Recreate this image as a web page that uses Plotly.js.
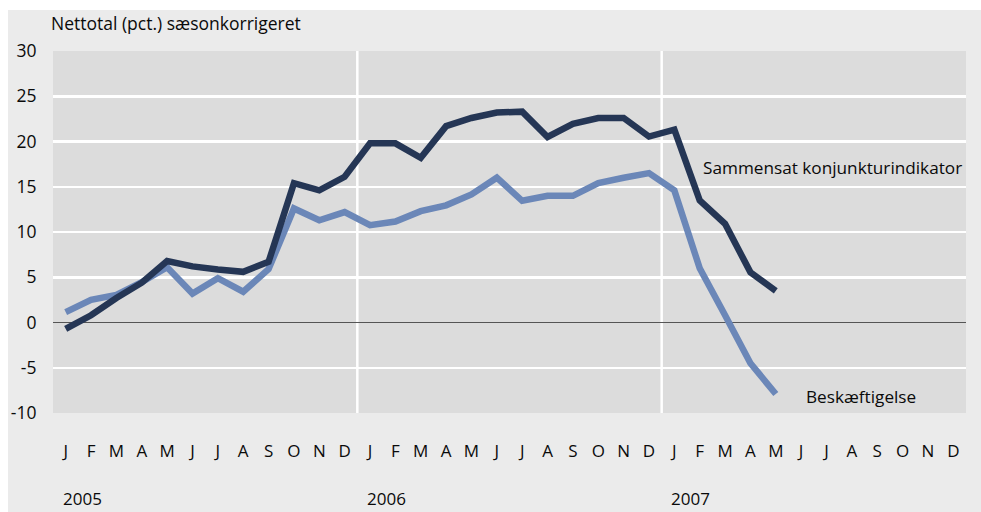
<!DOCTYPE html>
<html>
<head>
<meta charset="utf-8">
<script src="https://cdn.plot.ly/plotly-3.0.1.min.js"></script>
<style>
html,body{margin:0;padding:0;background:#ffffff;}
#chart{position:absolute;left:8px;top:10px;width:973px;height:502px;}
</style>
</head>
<body>
<div id="chart"></div>
<script>
const monthLabels = ["J","F","M","A","M","J","J","A","S","O","N","D",
                     "J","F","M","A","M","J","J","A","S","O","N","D",
                     "J","F","M","A","M","J","J","A","S","O","N","D"];
const years = ["2005","2006","2007"];
const yTickVals = [-10,-5,0,5,10,15,20,25,30];
const yTickText = ["-10","-5","0","5","10","15","20","25","30"];
const sammensat = [-0.7,0.8,2.7,4.4,6.8,6.2,5.85,5.6,6.7,15.4,14.6,16.1,
                   19.8,19.8,18.2,21.7,22.6,23.2,23.3,20.5,21.95,22.6,22.6,20.55,
                   21.3,13.5,10.9,5.55,3.5];
const beskaeftigelse = [1.15,2.5,3.05,4.45,6.1,3.2,4.9,3.4,5.9,12.6,11.3,12.2,
                        10.75,11.15,12.3,12.95,14.15,16.0,13.45,14.0,14.0,15.4,16.0,16.5,
                        14.6,6.0,0.8,-4.5,-7.9];
const seriesNames = ["Sammensat konjunkturindikator","Beskæftigelse"];
const yTitle = "Nettotal (pct.) sæsonkorrigeret";

const idx = a => a.map((_, i) => i);
const font = "Open Sans, Noto Sans, sans-serif";
const txt = "#0a0a0a";

const traces = [
  {x: idx(beskaeftigelse), y: beskaeftigelse, type: "scatter", mode: "lines",
   name: seriesNames[1], line: {color: "#6b87b8", width: 6.5, shape: "linear"}},
  {x: idx(sammensat), y: sammensat, type: "scatter", mode: "lines",
   name: seriesNames[0], line: {color: "#253655", width: 6.5, shape: "linear"}}
];

const annotations = [
  {text: yTitle, xref: "paper", yref: "paper", x: 0, xshift: -4, y: 1.04, xanchor: "left", yanchor: "bottom",
   showarrow: false, font: {family: font, size: 17.5, color: txt}},
  {text: seriesNames[0], xref: "x", yref: "y", x: 25.05, y: 17.1, xanchor: "left", yanchor: "middle",
   showarrow: false, font: {family: font, size: 17.2, color: txt}},
  {text: seriesNames[1], xref: "x", yref: "y", x: 29.1, y: -8.2, xanchor: "left", yanchor: "middle",
   showarrow: false, font: {family: font, size: 17.2, color: txt}}
];
years.forEach((yr, i) => {
  annotations.push({text: yr, xref: "x", yref: "paper", x: i * 12 - 0.2, y: -0.235,
    xanchor: "left", yanchor: "middle", showarrow: false,
    font: {family: font, size: 17, color: txt}});
});

const shapes = [11.5, 23.5].map(v => ({
  type: "line", xref: "x", yref: "paper", x0: v, x1: v, y0: 0, y1: 1,
  line: {color: "#ffffff", width: 2.5}, layer: "below"
}));

const layout = {
  width: 973, height: 502,
  margin: {l: 45, r: 15, t: 41, b: 99},
  paper_bgcolor: "#ebebeb",
  plot_bgcolor: "#dcdcdc",
  showlegend: false,
  font: {family: font, size: 16, color: txt},
  xaxis: {
    range: [-0.5, 35.5], tickmode: "array", tickvals: idx(monthLabels), ticktext: monthLabels,
    showgrid: false, zeroline: false, showline: false,
    ticks: "outside", ticklen: 23, tickcolor: "rgba(0,0,0,0)",
    tickfont: {family: font, size: 17, color: txt}, fixedrange: true
  },
  yaxis: {
    range: [-10, 30], tickmode: "array", tickvals: yTickVals, ticktext: yTickText,
    showgrid: true, gridcolor: "#ffffff", gridwidth: 2.5,
    zeroline: true, zerolinecolor: "#555555", zerolinewidth: 1,
    showline: false, ticks: "outside", ticklen: 12, tickcolor: "rgba(0,0,0,0)",
    tickfont: {family: font, size: 17.5, color: txt}, fixedrange: true
  },
  annotations: annotations,
  shapes: shapes
};

Plotly.newPlot("chart", traces, layout, {displayModeBar: false, staticPlot: true});
</script>
</body>
</html>
